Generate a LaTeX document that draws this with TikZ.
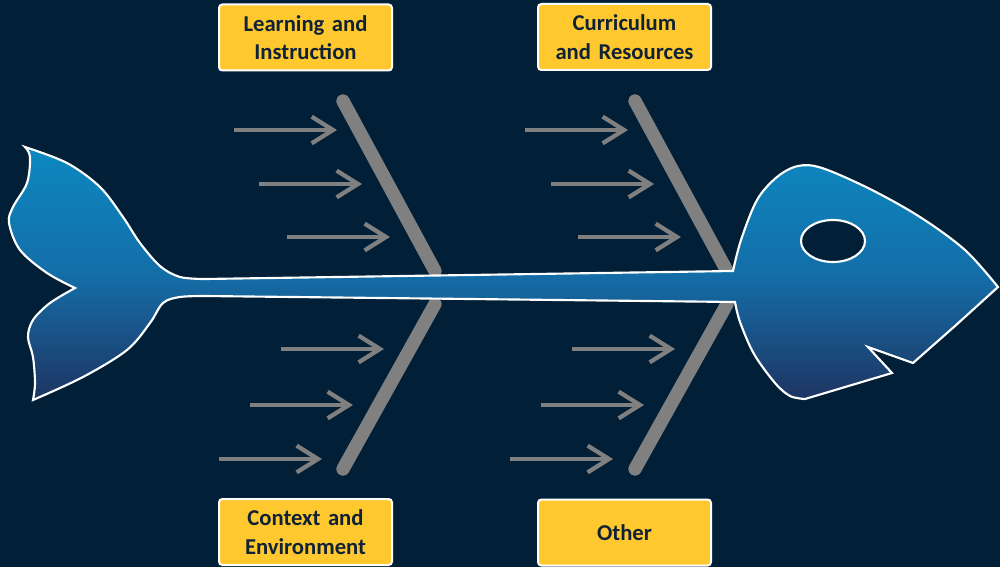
\documentclass[tikz,border=0pt]{standalone}
\usepackage{fontspec}
\setmainfont{Carlito}
\usetikzlibrary{arrows.meta}

\definecolor{bg}{RGB}{1,31,54}
\definecolor{fishtop}{RGB}{12,136,193}
\definecolor{fishmid}{RGB}{20,110,168}
\definecolor{fishbot}{RGB}{30,52,98}
\definecolor{bone}{RGB}{128,128,128}
\definecolor{tag}{RGB}{255,200,46}
\definecolor{ink}{RGB}{16,34,54}

\tikzset{
  bonestroke/.style={draw=bone, line width=10pt, line cap=round},
  feeder/.style={draw=bone, line width=3.2pt, -{Straight Barb[length=16pt,width=20pt]}},
  tagbox/.style={fill=tag, draw=white, line width=1.5pt, rounded corners=2.5pt,
    minimum width=129.75pt, minimum height=49.5pt, text width=125pt, align=center,
    font=\bfseries\fontsize{17}{21.5}\selectfont, text=ink, inner sep=0pt},
  fishbody/.style={draw=white, line width=1.6pt, top color=fishtop, bottom color=fishbot, middle color=fishmid},
}

\begin{document}
\begin{tikzpicture}[x=0.75pt, y=-0.75pt]
  % canvas
  \fill[bg] (0,0) rectangle (1000,567);
  \useasboundingbox (0,0) rectangle (1000,567);

  % bone end points
  \coordinate (ulA) at (343,101); \coordinate (ulB) at (435,271);
  \coordinate (llA) at (435,304); \coordinate (llB) at (343,469);
  \coordinate (urA) at (635,101); \coordinate (urB) at (727,271);
  \coordinate (lrA) at (727,304); \coordinate (lrB) at (635,469);

  % ribs
  \draw[bonestroke] (ulA) -- (ulB);
  \draw[bonestroke] (llA) -- (llB);
  \draw[bonestroke] (urA) -- (urB);
  \draw[bonestroke] (lrA) -- (lrB);

  % cause arrows
  \foreach \x/\y in {234/130, 259/184, 287/237,
                     525/130, 551/184, 578/237,
                     281/349, 250/405, 219/459,
                     572/349, 541/405, 510/459}
    \draw[feeder] (\x,\y) -- ++(103,0);

  % fish: tail, spine and head as one outline
  \path[fishbody]
    plot[smooth, tension=0.55] coordinates {(25,147) (67,163) (100,187) (123,217) (140,243) (160,266) (180,277) (205,279)}
    -- plot[smooth, tension=0.55] coordinates {(733,271) (741,240) (757,200) (777,177) (798,166) (822,168) (870,189) (920,217) (965,250) (998,287)}
    -- (955,326) -- (913,363) -- (868,347) -- (892,373) -- (805,399)
    -- plot[smooth, tension=0.55] coordinates {(805,399) (790,396) (775,383) (754,354) (740,322) (735,302)}
    -- plot[smooth, tension=0.55] coordinates {(205,296) (180,297) (163,303) (150,323) (127,350) (83,377) (33,400)}
    -- plot[smooth, tension=0.55] coordinates {(33,400) (35,383) (33,357) (28,337) (33,320) (50,303) (75,288)}
    -- plot[smooth, tension=0.55] coordinates {(75,288) (47,273) (20,250) (9,223) (13,207) (27,183) (30,157) (25,147)}
    -- cycle;

  % eye
  \draw[draw=white, fill=bg, line width=1.6pt] (833,241) ellipse [x radius=32, y radius=21];

  % category labels
  \node[tagbox] (learn)   at (305.5,37.5) {Learning and\\Instruction};
  \node[tagbox] (curric)  at (624.5,37)   {Curriculum\\and Resources};
  \node[tagbox] (context) at (305.5,532)  {Context and\\Environment};
  \node[tagbox] (other)   at (624.5,532.5){Other};
\end{tikzpicture}
\end{document}
